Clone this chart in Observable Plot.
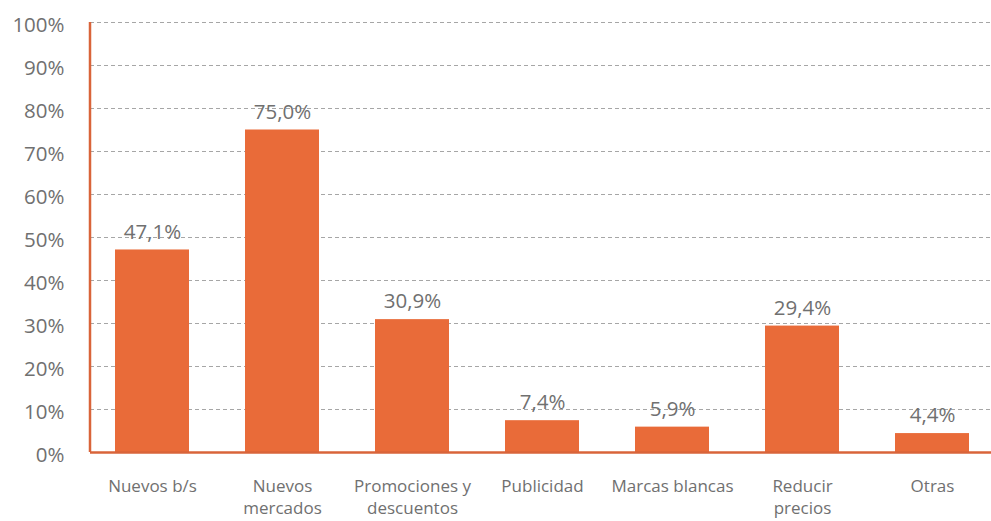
<!DOCTYPE html>
<html><head><meta charset="utf-8">
<script src="https://cdn.jsdelivr.net/npm/d3@7"></script>
<script src="https://cdn.jsdelivr.net/npm/@observablehq/plot@0.6"></script>
<style>
body{margin:0;background:#fff;}
svg{font-family:"Open Sans",sans-serif;}
</style></head><body>
<div id="chart"></div>
<script>
const categories = ["Nuevos b/s","Nuevos\nmercados","Promociones y\ndescuentos","Publicidad","Marcas blancas","Reducir\nprecios","Otras"];
const values = [47.1, 75.0, 30.9, 7.4, 5.9, 29.4, 4.4];
const yTicks = [0,10,20,30,40,50,60,70,80,90,100];
const data = categories.map((c,i)=>({cat:c, v:values[i]}));
const fmt = v => v.toFixed(1).replace(".", ",") + "%";
const leftAxisLine = (index, scales, values, dims) => {
  const l = document.createElementNS("http://www.w3.org/2000/svg","line");
  l.setAttribute("x1", dims.marginLeft); l.setAttribute("x2", dims.marginLeft);
  l.setAttribute("y1", scales.y(0)); l.setAttribute("y2", scales.y(100));
  l.setAttribute("stroke", "#D9643A"); l.setAttribute("stroke-width", 2.5);
  return l;
};
const plot = Plot.plot({
  width: 991, height: 521,
  marginLeft: 90, marginRight: 0, marginTop: 22, marginBottom: 69,
  style: {fontFamily: "'Open Sans', sans-serif", background: "#fff"},
  x: {domain: categories, range:[87,997], paddingInner: 0.43, paddingOuter: 0.215, label: null},
  y: {domain: [0,100], label: null},
  marks: [
    Plot.ruleY(yTicks.filter(d=>d>0), {stroke:"#a6a6a6", strokeDasharray:"4,3", strokeWidth:1}),
    Plot.barY(data, {x:"cat", y:"v", fill:"#E96B39"}),
    Plot.text(data, {x:"cat", y:"v", text:d=>fmt(d.v), dy:-18, fontSize:20.5, fill:"#707070"}),
    Plot.axisY({ticks: yTicks, tickFormat: d=>d+"%", tickSize:0, tickPadding:26, dy:3, fontSize:20.5, fill:"#707070", label:null}),
    Plot.axisX({tickSize:0, tickPadding:24, fontSize:17, fill:"#707070", label:null, lineHeight:1.3}),
    leftAxisLine,
    Plot.ruleY([0], {stroke:"#D9643A", strokeWidth:2.5})
  ]
});
document.getElementById("chart").appendChild(plot);
</script>
</body></html>
